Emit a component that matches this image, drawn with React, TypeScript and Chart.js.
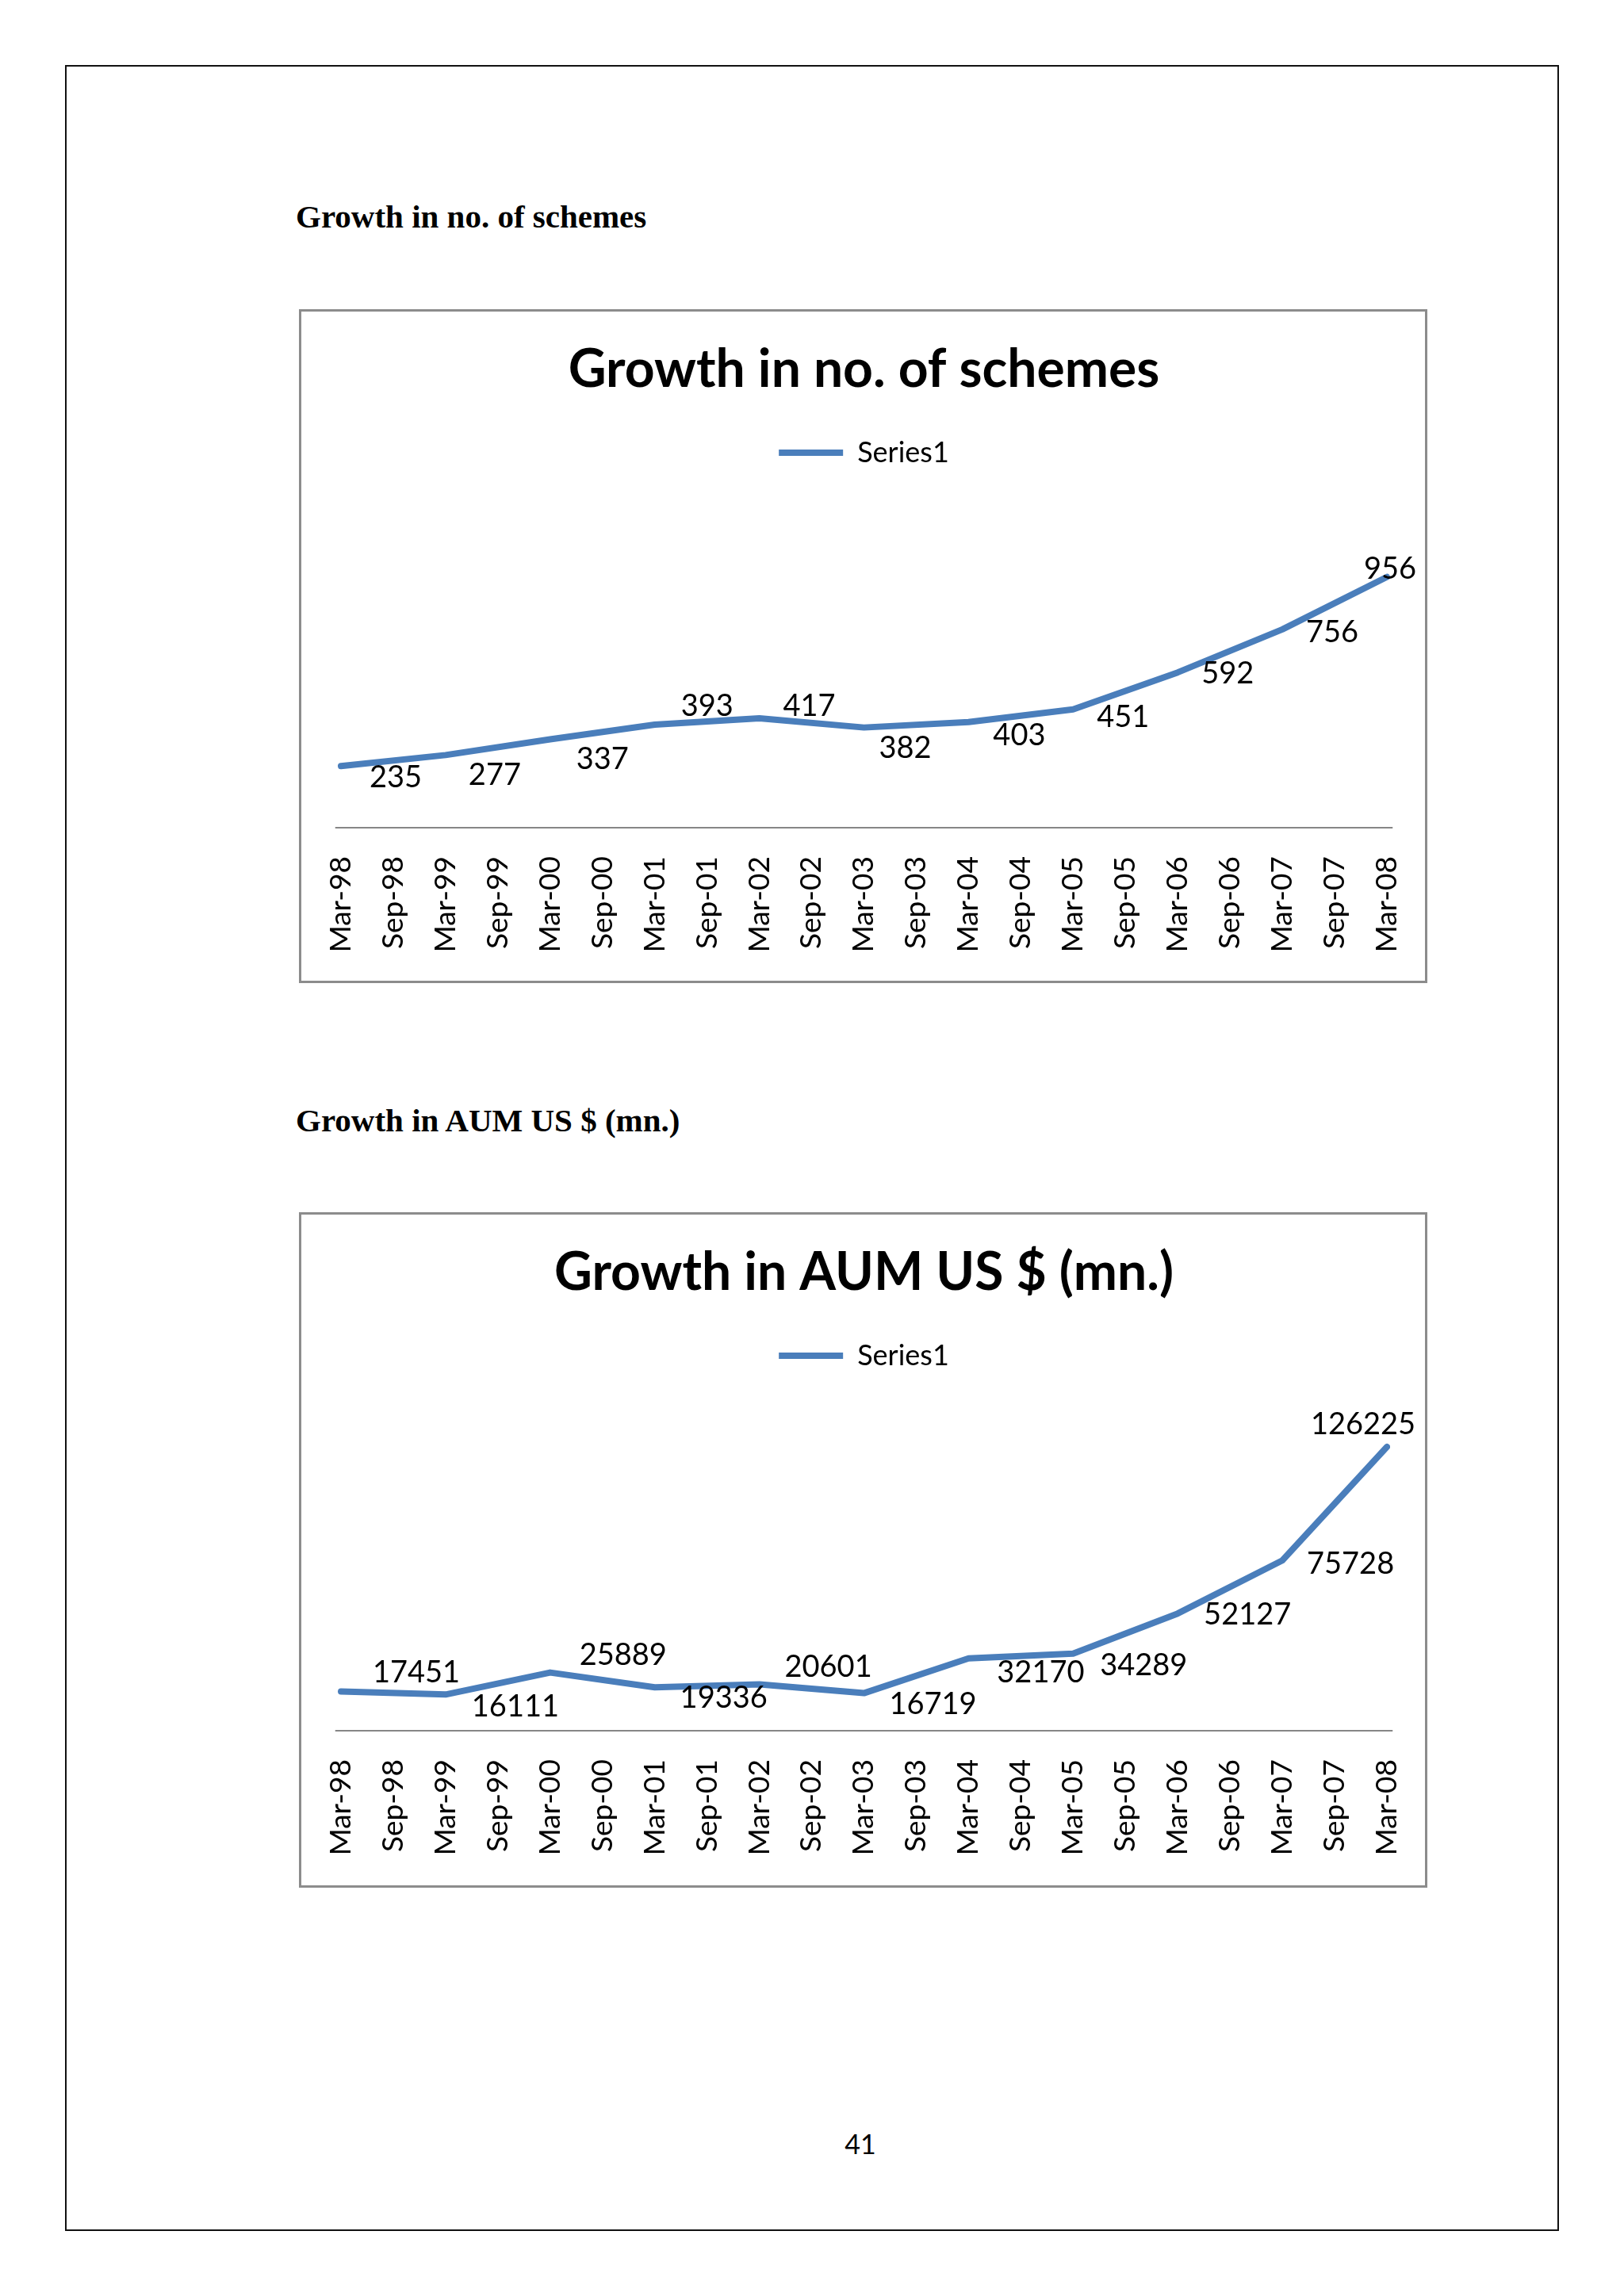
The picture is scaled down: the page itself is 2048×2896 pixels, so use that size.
import React, { useEffect, useRef } from "react";
import Chart from "chart.js/auto";

// ---------- data ----------
const periods = [
  "Mar-98", "Sep-98", "Mar-99", "Sep-99", "Mar-00", "Sep-00", "Mar-01",
  "Sep-01", "Mar-02", "Sep-02", "Mar-03", "Sep-03", "Mar-04", "Sep-04",
  "Mar-05", "Sep-05", "Mar-06", "Sep-06", "Mar-07", "Sep-07", "Mar-08",
];
const observationDates = [
  "Mar-98", "Mar-99", "Mar-00", "Mar-01", "Mar-02", "Mar-03",
  "Mar-04", "Mar-05", "Mar-06", "Mar-07", "Mar-08",
];
const schemesValues = [235, 277, 337, 393, 417, 382, 403, 451, 592, 756, 956];
const aumValues = [17451, 16111, 25889, 19336, 20601, 16719, 32170, 34289, 52127, 75728, 126225];
const seriesName = "Series1";
const schemesTitle = "Growth in no. of schemes";
const aumTitle = "Growth in AUM US $ (mn.)";
const pageNumber = "41";

// ---------- styles (label offsets relative to their point) ----------
const schemesLabelOffsets: [number, number][] = [
  [69, 14], [62, 25], [66, 25], [66, -23], [63, -15], [52, 26],
  [64, 17], [63, 10], [63, 2], [63, 4], [4, -10],
];
const aumLabelOffsets: [number, number][] = [
  [95, -24], [88, 15], [92, -22], [87, 14], [87, -22], [87, 14],
  [91, 18], [89, 15], [88, 2], [86, 4], [-30, -28],
];

const LINE_COLOR = "#4A7EBB";
const AXIS_COLOR = "#868686";
const FONT = "Lato";

type BoxProps = {
  title: string;
  values: number[];
  yMax: number;
  offsets: [number, number][];
  top: number;
  height: number;
  xAxisHeight: number;
};

function ChartBox({ title, values, yMax, offsets, top, height, xAxisHeight }: BoxProps) {
  const ref = useRef<HTMLCanvasElement | null>(null);
  const left = 377;
  const width = 1423;

  useEffect(() => {
    if (!ref.current) return;
    const labelPlugin = {
      id: "pointLabels",
      afterDatasetsDraw(chart: any) {
        const ctx = chart.ctx;
        const meta = chart.getDatasetMeta(0);
        const ds = chart.data.datasets[0].data as any[];
        ctx.save();
        ctx.font = `38px ${FONT}`;
        ctx.fillStyle = "#000";
        ctx.textAlign = "center";
        ctx.textBaseline = "middle";
        meta.data.forEach((pt: any, i: number) => {
          const [dx, dy] = offsets[i] || [0, 0];
          ctx.fillText(String(ds[i].y), pt.x + dx, pt.y + dy);
        });
        ctx.restore();
      },
      beforeDatasetsDraw(chart: any) {
        const ctx = chart.ctx;
        const xs = chart.scales.x;
        const first = xs.getPixelForValue(0);
        const last = xs.getPixelForValue(periods.length - 1);
        const ext = ((last - first) / (periods.length - 1)) * 0.11;
        const y = chart.chartArea.bottom;
        ctx.save();
        ctx.strokeStyle = AXIS_COLOR;
        ctx.lineWidth = 2;
        ctx.beginPath();
        ctx.moveTo(first - ext, y);
        ctx.lineTo(last + ext, y);
        ctx.stroke();
        ctx.restore();
      },
    };

    const chart = new Chart(ref.current, {
      type: "line",
      data: {
        labels: periods,
        datasets: [
          {
            label: seriesName,
            data: observationDates.map((d, i) => ({ x: d, y: values[i] })),
            borderColor: LINE_COLOR,
            backgroundColor: LINE_COLOR,
            borderWidth: 8,
            borderCapStyle: "round",
            borderJoinStyle: "round",
            pointRadius: 0,
            pointHoverRadius: 0,
            tension: 0,
            fill: false,
          },
        ],
      },
      options: {
        animation: false,
        responsive: false,
        devicePixelRatio: 1,
        layout: { padding: { left: 53, right: 51, top: 0, bottom: 0 } },
        plugins: {
          title: {
            display: true,
            text: title,
            color: "#000",
            font: { family: FONT, weight: "bold", size: 66, lineHeight: "84px" },
            padding: { top: 35, bottom: 13 },
          },
          legend: {
            display: true,
            position: "top",
            align: "center",
            labels: {
              usePointStyle: true,
              pointStyle: "line",
              pointStyleWidth: 81,
              color: "#000",
              font: { family: FONT, size: 36 },
              padding: 31,
            },
          },
          tooltip: { enabled: false },
        },
        scales: {
          x: {
            type: "category",
            position: "bottom",
            grid: { display: false, drawTicks: true, tickLength: 33 },
            border: { display: false },
            ticks: {
              autoSkip: false,
              maxRotation: 90,
              minRotation: 90,
              padding: 3,
              color: "#000",
              font: { family: FONT, size: 37 },
            },
            afterFit: (s: any) => {
              s.height = xAxisHeight;
            },
          },
          x2: {
            type: "category",
            position: "top",
            display: true,
            grid: { display: false, drawTicks: false },
            border: { display: false },
            ticks: { display: false },
            afterFit: (s: any) => {
              s.height = 48;
            },
          },
          y: {
            display: false,
            min: 0,
            max: yMax,
          },
        },
      } as any,
      plugins: [labelPlugin],
    });
    return () => chart.destroy();
  }, [title, values, yMax, offsets, xAxisHeight]);

  return (
    <>
      <canvas
        ref={ref}
        width={width}
        height={height}
        style={{ position: "absolute", left, top, width, height }}
      />
      <div
        style={{
          position: "absolute",
          left,
          top,
          width,
          height,
          boxSizing: "border-box",
          border: "3px solid #8c8c8c",
          pointerEvents: "none",
        }}
      />
    </>
  );
}

const headingStyle: React.CSSProperties = {
  position: "absolute",
  left: 373,
  fontFamily: "'Liberation Serif', 'Times New Roman', serif",
  fontWeight: "bold",
  fontSize: 41,
  lineHeight: "41px",
  whiteSpace: "nowrap",
  color: "#000",
};

export default function App() {
  return (
    <div
      style={{
        position: "absolute",
        left: 0,
        top: 0,
        width: 2048,
        height: 2896,
        background: "#fff",
        overflow: "hidden",
      }}
    >
      <div
        style={{
          position: "absolute",
          left: 82,
          top: 82,
          width: 1884,
          height: 2732,
          boxSizing: "border-box",
          border: "2px solid #111",
        }}
      />
      <div style={{ ...headingStyle, top: 253 }}>{schemesTitle}</div>
      <ChartBox
        title={schemesTitle}
        values={schemesValues}
        yMax={1200}
        offsets={schemesLabelOffsets}
        top={390}
        height={850}
        xAxisHeight={196}
      />
      <div style={{ ...headingStyle, top: 1393 }}>{aumTitle}</div>
      <ChartBox
        title={aumTitle}
        values={aumValues}
        yMax={140000}
        offsets={aumLabelOffsets}
        top={1529}
        height={852}
        xAxisHeight={198}
      />
      <div
        style={{
          position: "absolute",
          left: 985,
          width: 200,
          top: 2687,
          textAlign: "center",
          fontFamily: FONT,
          fontSize: 34,
          lineHeight: "34px",
          color: "#000",
        }}
      >
        {pageNumber}
      </div>
    </div>
  );
}
